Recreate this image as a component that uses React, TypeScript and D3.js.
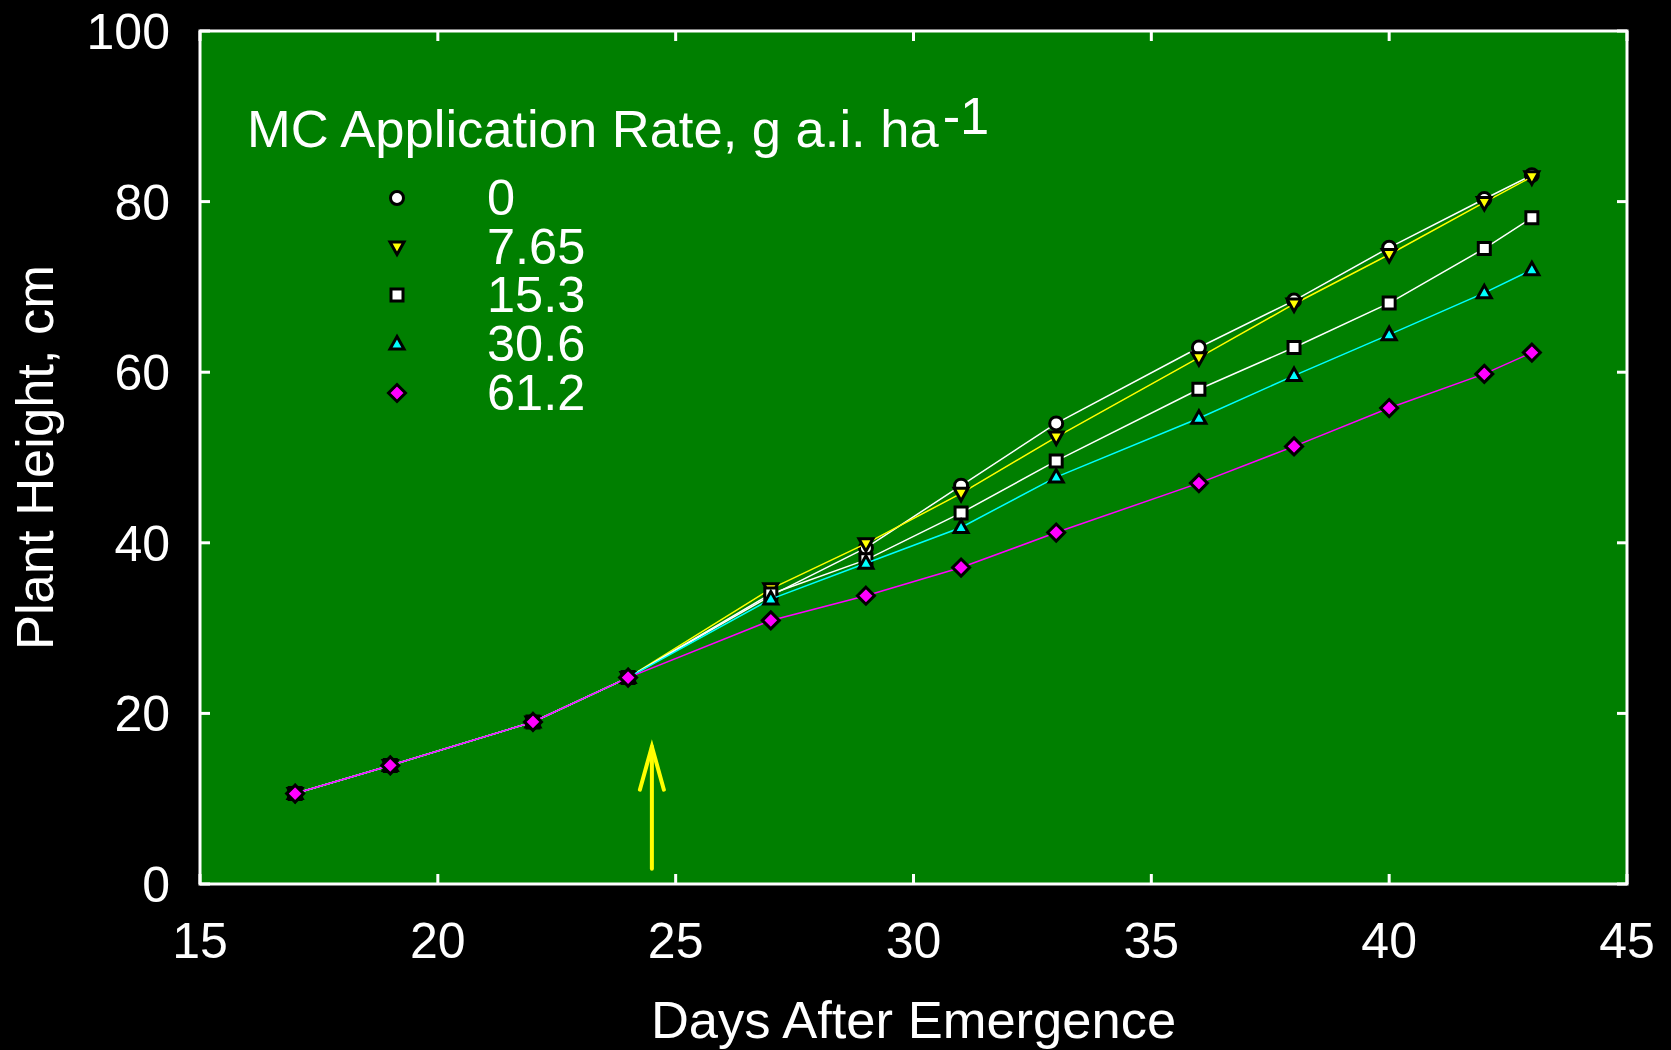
import * as d3 from "d3";

const days = [17, 19, 22, 24, 27, 29, 31, 33, 36, 38, 40, 42, 43];

const rate0 = [10.6, 13.9, 19.0, 24.2, 33.8, 39.4, 46.7, 54.0, 62.9, 68.4, 74.6, 80.3, 83.1];
const rate765 = [10.6, 13.9, 19.0, 24.2, 34.6, 39.9, 45.8, 52.4, 61.7, 68.0, 73.8, 79.9, 82.9];
const rate153 = [10.6, 13.9, 19.0, 24.2, 34.0, 38.0, 43.5, 49.6, 58.0, 62.9, 68.1, 74.5, 78.1];
const rate306 = [10.6, 13.9, 19.0, 24.2, 33.4, 37.6, 41.8, 47.7, 54.6, 59.6, 64.4, 69.3, 72.0];
const rate612 = [10.6, 13.9, 19.0, 24.2, 30.9, 33.8, 37.1, 41.2, 47.0, 51.3, 55.8, 59.8, 62.3];

const seriesLabels = ["0", "7.65", "15.3", "30.6", "61.2"];
const xTicks = [15, 20, 25, 30, 35, 40, 45];
const yTicks = [0, 20, 40, 60, 80, 100];

// application marker (arrow) position, in data units
const arrowDay = 24.5;
const arrowFrom = 1.8;
const arrowTo = 16.1;

const W = 1671;
const H = 1050;
const left = 200;
const right = 1627;
const top = 31;
const bottom = 884;
const font = "'Liberation Sans', Arial, sans-serif";

const colors = ["#ffffff", "#ffff00", "#ffffff", "#00ffff", "#ff00ff"];
const shapes = ["circle", "down", "square", "up", "diamond"];

function markerPath(shape: string): string {
  switch (shape) {
    case "circle": {
      const p = d3.path();
      p.arc(0, 0, 6.5, 0, Math.PI * 2);
      return p.toString();
    }
    case "square":
      return "M-6,-6H6V6H-6Z";
    case "up":
      return "M0,-7.5L7,5L-7,5Z";
    case "down":
      return "M0,7.5L7,-5L-7,-5Z";
    default:
      return "M0,-8.5L8.5,0L0,8.5L-8.5,0Z";
  }
}

export default function App() {
  const x = d3.scaleLinear().domain([15, 45]).range([left, right]);
  const y = d3.scaleLinear().domain([0, 100]).range([bottom, top]);
  const allSeries = [rate0, rate765, rate153, rate306, rate612];

  const line = d3
    .line<number>()
    .x((_, i) => x(days[i]))
    .y((v) => y(v));

  const ax = x(arrowDay);
  const tipY = y(arrowTo);

  const legendRows = [215, 264, 312, 361, 410];

  return (
    <svg
      width={W}
      height={H}
      style={{ position: "absolute", left: 0, top: 0, background: "#000" }}
      fontFamily={font}
    >
      <rect x={0} y={0} width={W} height={H} fill="#000" />
      <rect x={left} y={top} width={right - left} height={bottom - top} fill="#007f00" />

      {/* ticks, mirrored on all four sides */}
      {xTicks.map((t) => (
        <g key={"xt" + t} stroke="#fff" strokeWidth={3}>
          <line x1={x(t)} x2={x(t)} y1={bottom} y2={bottom - 10} />
          <line x1={x(t)} x2={x(t)} y1={top} y2={top + 10} />
        </g>
      ))}
      {yTicks.map((t) => (
        <g key={"yt" + t} stroke="#fff" strokeWidth={3}>
          <line x1={left} x2={left + 10} y1={y(t)} y2={y(t)} />
          <line x1={right} x2={right - 10} y1={y(t)} y2={y(t)} />
        </g>
      ))}

      {/* series */}
      {allSeries.map((vals, s) => (
        <g key={"s" + s}>
          <path d={line(vals) ?? ""} fill="none" stroke={colors[s]} strokeWidth={1.5} />
          {vals.map((v, i) => (
            <path
              key={i}
              d={markerPath(shapes[s])}
              transform={`translate(${x(days[i])},${y(v)})`}
              fill={colors[s]}
              stroke="#000"
              strokeWidth={3}
              strokeLinejoin="miter"
            />
          ))}
        </g>
      ))}

      {/* arrow */}
      <g stroke="#ffff00" strokeWidth={4} fill="none" strokeLinecap="round">
        <line x1={ax} x2={ax} y1={y(arrowFrom)} y2={tipY} />
        <path d={`M${ax - 12},${tipY + 43}L${ax},${tipY}L${ax + 12},${tipY + 43}`} />
      </g>

      <rect
        x={left}
        y={top}
        width={right - left}
        height={bottom - top}
        fill="none"
        stroke="#fff"
        strokeWidth={3}
      />

      {/* tick labels */}
      {xTicks.map((t) => (
        <text key={"xl" + t} x={x(t)} y={958} fill="#fff" fontSize={50} textAnchor="middle">
          {t}
        </text>
      ))}
      {yTicks.map((t) => (
        <text key={"yl" + t} x={170} y={y(t) + 18} fill="#fff" fontSize={50} textAnchor="end">
          {t}
        </text>
      ))}

      <text x={(left + right) / 2} y={1038} fill="#fff" fontSize={52.5} textAnchor="middle">
        Days After Emergence
      </text>
      <text
        transform={`translate(53,${(top + bottom) / 2}) rotate(-90)`}
        fill="#fff"
        fontSize={52.5}
        textAnchor="middle"
      >
        Plant Height, cm
      </text>

      {/* legend */}
      <text x={247} y={147} fill="#fff" fontSize={52.5}>
        MC Application Rate, g a.i. ha
        <tspan dx={4} dy={-13}>-1</tspan>
      </text>
      {seriesLabels.map((lab, s) => (
        <g key={"lg" + s}>
          <path
            d={markerPath(shapes[s])}
            transform={`translate(397,${legendRows[s] - 17})`}
            fill={colors[s]}
            stroke="#000"
            strokeWidth={3}
          />
          <text x={487} y={legendRows[s]} fill="#fff" fontSize={50.5}>
            {lab}
          </text>
        </g>
      ))}
    </svg>
  );
}
